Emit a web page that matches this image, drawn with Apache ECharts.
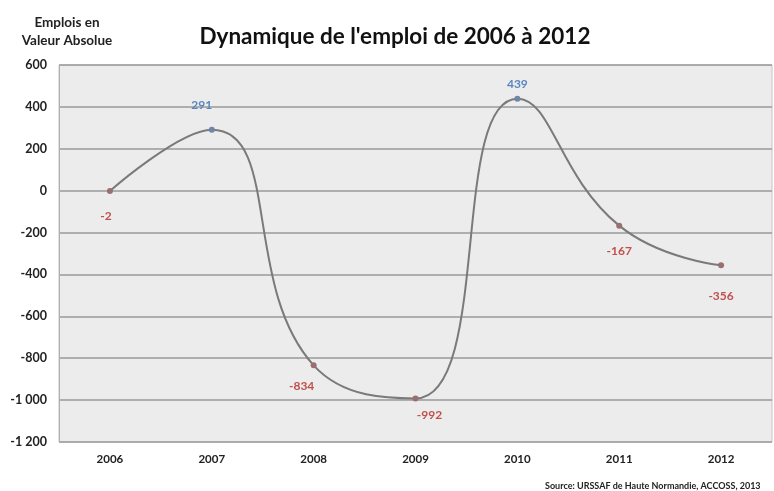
<!DOCTYPE html>
<html>
<head>
<meta charset="utf-8">
<script src="https://cdn.jsdelivr.net/npm/echarts@6/dist/echarts.min.js"></script>
<style>
  html, body { margin: 0; padding: 0; background: #fff; }
  #chart { width: 774px; height: 491px; }
</style>
</head>
<body>
<div id="chart"></div>
<script>
// data
var years = ['2006', '2007', '2008', '2009', '2010', '2011', '2012'];
var emplois = [-2, 291, -834, -992, 439, -167, -356];

// label nudges (style only), [dx, dy] per point
var labelOffsets = [[-4, 0], [-10, -2], [-12, -4], [14, -8], [0, 8], [0, 0], [0, 6]];

var posColor = '#5a86c0';
var negColor = '#c0504d';
var font = 'Lato, "Open Sans", sans-serif';

function fmt(v) {
	var s = String(Math.abs(v));
	if (s.length > 3) {
		s = s.slice(0, s.length - 3) + ' ' + s.slice(s.length - 3);
	}
	return (v < 0 ? '-' : '') + s;
}

var points = [];
for (var i = 0; i < emplois.length; i++) {
	var v = emplois[i];
	var up = v > 0;
	points.push({
		value: v,
		itemStyle: { color: up ? '#6f86a6' : '#9a6f6f' },
		label: {
			position: up ? 'top' : 'bottom',
			distance: up ? 14 : 16,
			offset: labelOffsets[i],
			color: up ? posColor : negColor
		}
	});
}

var myChart = echarts.init(document.getElementById('chart'));

var chartOption = {
	backgroundColor: '#ffffff',
	textStyle: { fontFamily: font },
	title: [
		{
			text: "Dynamique de l'emploi de 2006 à 2012",
			left: 390,
			top: 20,
			textAlign: 'center',
			textStyle: { fontFamily: font, fontSize: 22.5, fontWeight: 'bold', color: '#111' }
		},
		{
			text: 'Emplois en\nValeur Absolue',
			left: 62,
			top: 9,
			textAlign: 'center',
			textStyle: { fontFamily: font, fontSize: 13.5, fontWeight: 'bold', color: '#222', lineHeight: 18 }
		},
		{
			text: 'Source: URSSAF de Haute Normandie, ACCOSS, 2013',
			left: 540,
			top: 477,
			textStyle: { fontFamily: font, fontSize: 9, fontWeight: 'bold', color: '#222' }
		}
	],
	grid: {
		left: 59,
		right: 2,
		top: 65,
		bottom: 49,
		show: true,
		backgroundColor: '#ececec',
		borderColor: '#c4c4c4',
		borderWidth: 1
	},
	xAxis: {
		type: 'category',
		data: years,
		boundaryGap: true,
		axisLine: { show: false },
		axisTick: { show: false },
		axisLabel: { margin: 11, fontSize: 11.5, fontWeight: 'bold', color: '#222', fontFamily: font }
	},
	yAxis: {
		type: 'value',
		min: -1200,
		max: 600,
		interval: 200,
		axisLine: { show: true, lineStyle: { color: '#b0b0b0' } },
		axisTick: { show: false },
		splitLine: { lineStyle: { color: '#9a9a9a', width: 1.5 } },
		axisLabel: {
			margin: 12,
			fontSize: 12.5,
			fontWeight: 'bold',
			color: '#222',
			fontFamily: font,
			formatter: function (v) { return fmt(v); }
		}
	},
	series: [
		{
			type: 'line',
			data: points,
			smooth: 0.5,
			symbol: 'circle',
			symbolSize: 6,
			lineStyle: { color: '#7a7a7a', width: 2 },
			label: {
				show: true,
				fontSize: 12,
				fontWeight: 'bold',
				fontFamily: font,
				formatter: function (p) { return fmt(p.value); }
			}
		}
	]
};

myChart.setOption(chartOption);
</script>
</body>
</html>
